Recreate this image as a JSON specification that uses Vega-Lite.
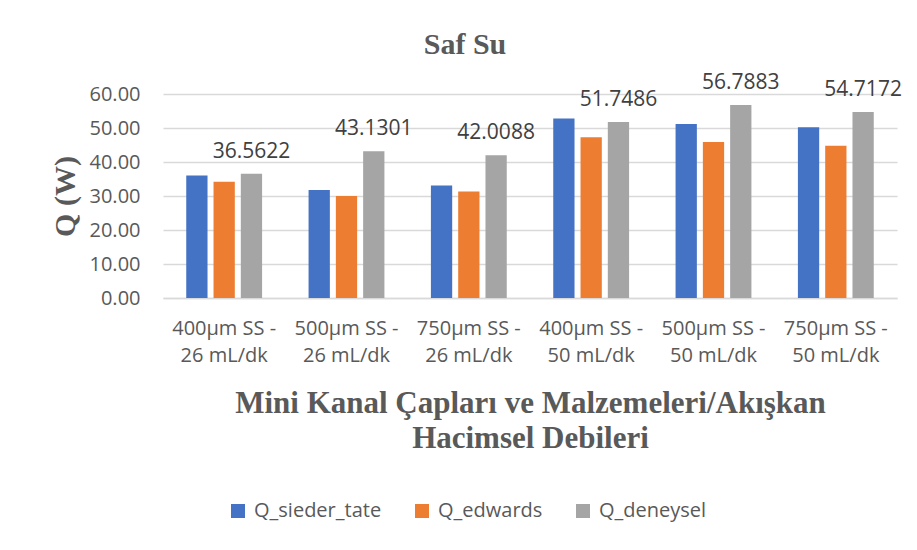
{
  "$schema": "https://vega.github.io/schema/vega-lite/v6.json",
  "width": 734,
  "height": 204,
  "autosize": "none",
  "padding": {"left": 163, "top": 94, "right": 20, "bottom": 252},
  "background": "white",
  "title": {"text": "Saf Su", "font": "Liberation Serif", "fontSize": 30, "fontWeight": "bold", "color": "#595959", "anchor": "middle", "offset": 12, "dx": -65},
  "config": {"view": {"stroke": null}},
  "data": {"values": [
    {"cat": "400µm SS - 26 mL/dk", "series": "Q_sieder_tate", "value": 36.0},
    {"cat": "400µm SS - 26 mL/dk", "series": "Q_edwards", "value": 34.2},
    {"cat": "400µm SS - 26 mL/dk", "series": "Q_deneysel", "value": 36.5622},
    {"cat": "500µm SS - 26 mL/dk", "series": "Q_sieder_tate", "value": 31.8},
    {"cat": "500µm SS - 26 mL/dk", "series": "Q_edwards", "value": 30.0},
    {"cat": "500µm SS - 26 mL/dk", "series": "Q_deneysel", "value": 43.1301},
    {"cat": "750µm SS - 26 mL/dk", "series": "Q_sieder_tate", "value": 33.1},
    {"cat": "750µm SS - 26 mL/dk", "series": "Q_edwards", "value": 31.3},
    {"cat": "750µm SS - 26 mL/dk", "series": "Q_deneysel", "value": 42.0088},
    {"cat": "400µm SS - 50 mL/dk", "series": "Q_sieder_tate", "value": 52.8},
    {"cat": "400µm SS - 50 mL/dk", "series": "Q_edwards", "value": 47.3},
    {"cat": "400µm SS - 50 mL/dk", "series": "Q_deneysel", "value": 51.7486},
    {"cat": "500µm SS - 50 mL/dk", "series": "Q_sieder_tate", "value": 51.2},
    {"cat": "500µm SS - 50 mL/dk", "series": "Q_edwards", "value": 45.9},
    {"cat": "500µm SS - 50 mL/dk", "series": "Q_deneysel", "value": 56.7883},
    {"cat": "750µm SS - 50 mL/dk", "series": "Q_sieder_tate", "value": 50.2},
    {"cat": "750µm SS - 50 mL/dk", "series": "Q_edwards", "value": 44.8},
    {"cat": "750µm SS - 50 mL/dk", "series": "Q_deneysel", "value": 54.7172}
  ]},
  "encoding": {
    "x": {
      "field": "cat", "type": "nominal", "sort": null,
      "scale": {"paddingInner": 0.38, "paddingOuter": 0.19},
      "axis": {
        "title": ["Mini Kanal Çapları ve Malzemeleri/Akışkan", "Hacimsel Debileri"],
        "titleFont": "Liberation Serif", "titleFontSize": 31, "titleFontWeight": "bold", "titleColor": "#595959",
        "titlePadding": 23, "titleLineHeight": 35,
        "labelAngle": 0, "labelFont": "Open Sans", "labelFontSize": 20, "labelColor": "#595959", "labelLineHeight": 27,
        "labelPadding": 20,
        "labelExpr": "[split(datum.label, ' - ')[0] + ' -', split(datum.label, ' - ')[1]]",
        "domainColor": "#d9d9d9", "domainWidth": 1.5, "ticks": false
      }
    },
    "xOffset": {"field": "series", "type": "nominal", "sort": ["Q_sieder_tate", "Q_edwards", "Q_deneysel"], "scale": {"paddingInner": 0.22}},
    "y": {
      "field": "value", "type": "quantitative",
      "scale": {"domain": [0, 60]},
      "axis": {
        "title": "Q (W)", "titleFont": "Liberation Serif", "titleFontSize": 30, "titleFontWeight": "bold", "titleColor": "#595959",
        "titlePadding": 9,
        "values": [0, 10, 20, 30, 40, 50, 60], "format": ".2f",
        "labelFont": "Open Sans", "labelFontSize": 20, "labelColor": "#595959", "labelPadding": 23,
        "domain": false, "ticks": false, "gridColor": "#d9d9d9", "gridWidth": 1.5
      }
    }
  },
  "layer": [
    {
      "mark": {"type": "bar"},
      "encoding": {
        "color": {
          "field": "series", "type": "nominal",
          "sort": ["Q_sieder_tate", "Q_edwards", "Q_deneysel"],
          "scale": {"domain": ["Q_sieder_tate", "Q_edwards", "Q_deneysel"], "range": ["#4472C4", "#ED7D31", "#A5A5A5"]},
          "legend": {
            "title": null, "orient": "none", "direction": "horizontal", "legendX": 65, "legendY": 407,
            "symbolType": "square", "symbolSize": 196, "symbolStrokeWidth": 0,
            "labelFont": "Open Sans", "labelFontSize": 20, "labelColor": "#595959", "columnPadding": 30, "labelOffset": 6
          }
        }
      }
    },
    {
      "transform": [{"filter": "datum.series == 'Q_deneysel'"}],
      "mark": {"type": "text", "baseline": "bottom", "dy": -12, "font": "Open Sans", "fontSize": 21, "color": "#404040"},
      "encoding": {
        "text": {"field": "value", "type": "quantitative", "format": ".4f"}
      }
    }
  ]
}
